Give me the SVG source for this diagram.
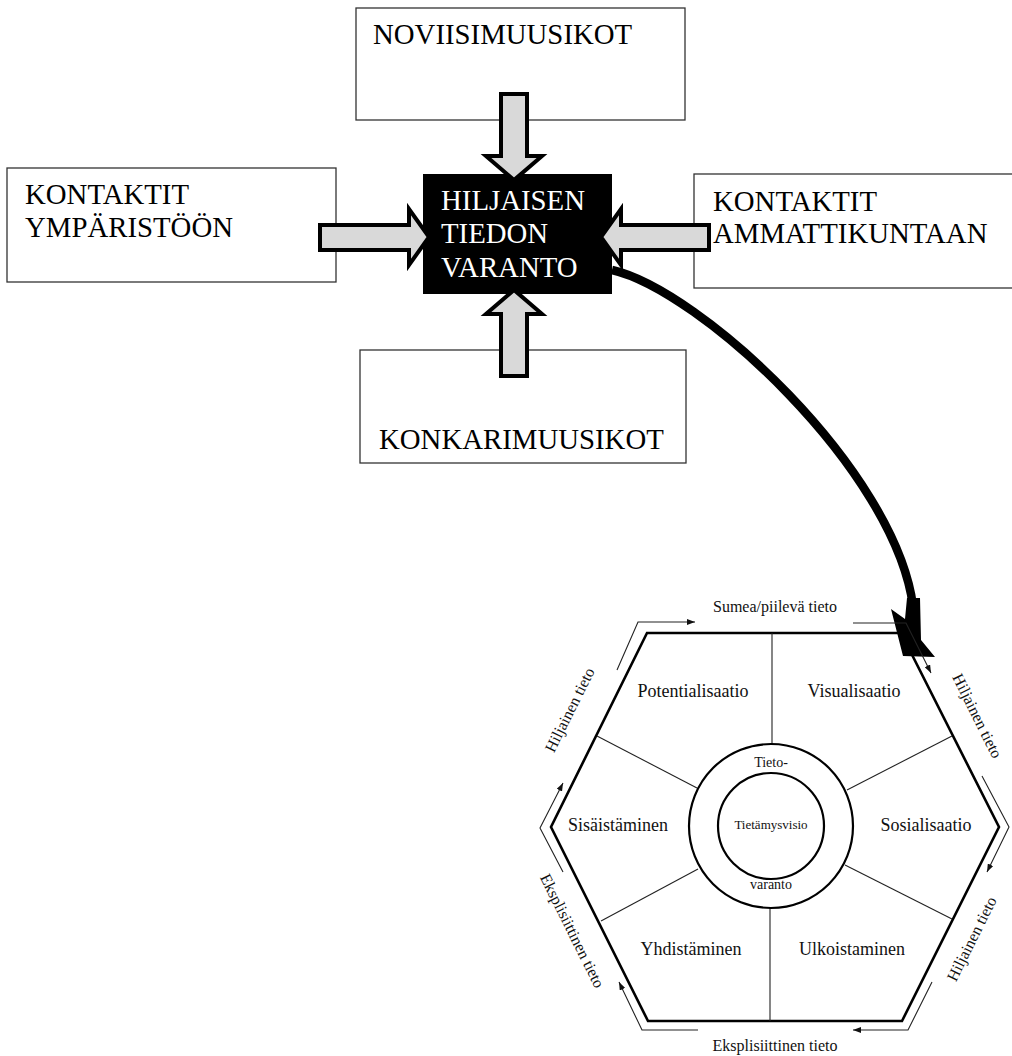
<svg xmlns="http://www.w3.org/2000/svg" width="1012" height="1056" viewBox="0 0 1012 1056">
<style>
.box{fill:#fff;stroke:#333;stroke-width:1.3}
.big{font-family:"Liberation Serif","Times New Roman",serif;font-size:28.8px;fill:#000}
.white{fill:#fff}
.blk{fill:#d9d9d9;stroke:#000;stroke-width:4;stroke-linejoin:miter}
.hex{fill:none;stroke:#000;stroke-width:2.6;stroke-linejoin:miter}
.div{stroke:#222;stroke-width:1.1;fill:none}
.flow{stroke:#222;stroke-width:1.1;fill:none}
.seg{font-family:"Liberation Serif","Times New Roman",serif;font-size:18px;fill:#111;text-anchor:middle}
.lab{font-family:"Liberation Serif","Times New Roman",serif;font-size:16px;fill:#111;text-anchor:middle}
.sm{font-family:"Liberation Serif","Times New Roman",serif;fill:#111;text-anchor:middle}
</style>
<defs>
<marker id="ah" viewBox="0 0 8 6" refX="8" refY="3" markerWidth="8" markerHeight="6" markerUnits="userSpaceOnUse" orient="auto">
<path d="M0,0 L8,3 L0,6 Z" fill="#111"/>
</marker>
</defs>

<g id="noviisimuusikot">
<rect class="box" x="356" y="8" width="329" height="112"/>
<text class="big" x="373" y="44">NOVIISIMUUSIKOT</text>
</g>
<g id="kontaktit-ymparistoon">
<rect class="box" x="7" y="168" width="329" height="114"/>
<text class="big" x="25" y="204">KONTAKTIT</text>
<text class="big" x="25" y="237">YMPÄRISTÖÖN</text>
</g>
<g id="kontaktit-ammattikuntaan">
<rect class="box" x="694" y="174" width="330" height="114"/>
<text class="big" x="713" y="211">KONTAKTIT</text>
<text class="big" x="713" y="243">AMMATTIKUNTAAN</text>
</g>
<g id="konkarimuusikot">
<rect class="box" x="360" y="350" width="326" height="113"/>
<text class="big" x="379" y="449">KONKARIMUUSIKOT</text>
</g>
<g id="hiljaisen-tiedon-varanto">
<rect x="423" y="174" width="189" height="120" fill="#000"/>
<text class="big white" x="441" y="210">HILJAISEN</text>
<text class="big white" x="441" y="243">TIEDON</text>
<text class="big white" x="441" y="277">VARANTO</text>
</g>

<g id="connectors">
<polygon class="blk" points="501,94 527,94 527,156 542,156 514,180 486,156 501,156"/>
<polygon class="blk" points="501,376 527,376 527,314 542,314 514,290 486,314 501,314"/>
<polygon class="blk" points="320,225 409,225 409,209 429,237 409,265 409,250 320,250"/>
<polygon class="blk" points="709,225 621,225 621,209 601,237 621,265 621,250 709,250"/>
<path d="M612,270 C700,290 895,470 913,606" fill="none" stroke="#000" stroke-width="8.5"/>
<polygon points="891,609 905,619 907,598 920,598 921,640 935,657 903,656" fill="#000"/>
</g>

<g id="knowledge-hexagon">
<polygon class="hex" points="647,633 901,633 999,827 902,1021 648,1021 551,827"/>
<line class="div" x1="772" y1="633" x2="772" y2="744"/>
<line class="div" x1="770" y1="908" x2="770" y2="1021"/>
<line class="div" x1="597" y1="736" x2="697" y2="788"/>
<line class="div" x1="952" y1="736" x2="847" y2="790"/>
<line class="div" x1="601" y1="921" x2="698" y2="869"/>
<line class="div" x1="952" y1="919" x2="845" y2="865"/>
<circle cx="771" cy="826" r="82" fill="#fff" stroke="#000" stroke-width="2.2"/>
<circle cx="771" cy="826" r="53" fill="#fff" stroke="#000" stroke-width="2.2"/>
<text class="sm" x="771" y="767" font-size="14">Tieto-</text>
<text class="sm" x="771" y="829" font-size="13">Tietämysvisio</text>
<text class="sm" x="771" y="889" font-size="14">varanto</text>
<text class="seg" x="693" y="697">Potentialisaatio</text>
<text class="seg" x="854" y="697">Visualisaatio</text>
<text class="seg" x="618" y="831">Sisäistäminen</text>
<text class="seg" x="926" y="831">Sosialisaatio</text>
<text class="seg" x="691" y="955">Yhdistäminen</text>
<text class="seg" x="852" y="955">Ulkoistaminen</text>
</g>

<g id="flow-arrows">
<polyline class="flow" points="617,670 638,622 695,622" marker-end="url(#ah)"/>
<polyline class="flow" points="853,623 906,623 931,673" marker-end="url(#ah)"/>
<polyline class="flow" points="982,776 1009,827 987,872" marker-end="url(#ah)"/>
<polyline class="flow" points="932,982 908,1030 853,1030" marker-end="url(#ah)"/>
<polyline class="flow" points="698,1030 642,1030 619,982" marker-end="url(#ah)"/>
<polyline class="flow" points="563,872 540,828 563,783" marker-end="url(#ah)"/>
</g>

<g id="edge-labels">
<text class="lab" x="775" y="612">Sumea/piilevä tieto</text>
<text class="lab" x="775" y="1051">Eksplisiittinen tieto</text>
<text class="lab" transform="translate(570,710) rotate(-63.5)" x="0" y="5">Hiljainen tieto</text>
<text class="lab" transform="translate(977,716) rotate(63.5)" x="0" y="5">Hiljainen tieto</text>
<text class="lab" transform="translate(972,939) rotate(-63.5)" x="0" y="5">Hiljainen tieto</text>
<text class="lab" transform="translate(572,931) rotate(63.5)" x="0" y="5">Eksplisiittinen tieto</text>
</g>
</svg>
